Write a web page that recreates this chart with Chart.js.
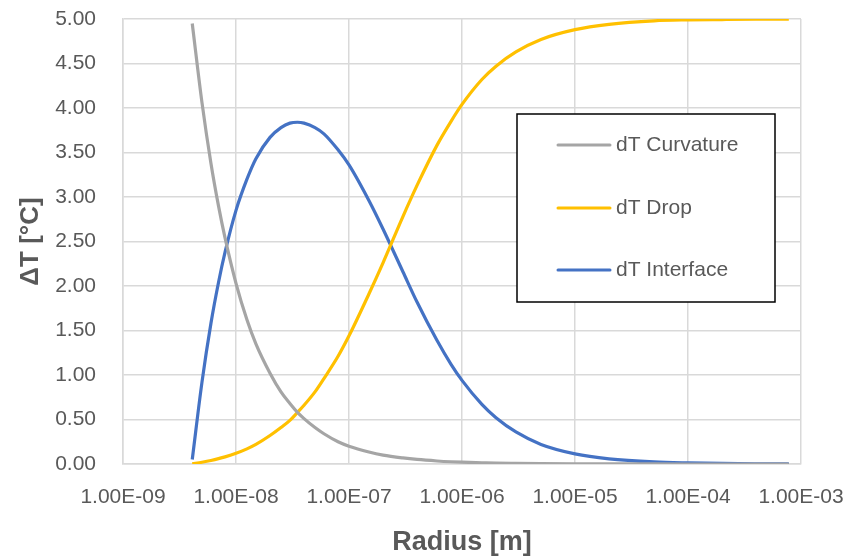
<!DOCTYPE html>
<html>
<head>
<meta charset="utf-8">
<script src="https://cdn.jsdelivr.net/npm/chart.js@4/dist/chart.umd.min.js"></script>
<style>
  html, body { margin: 0; padding: 0; background: #ffffff; }
  #wrap { width: 850px; height: 560px; }
</style>
</head>
<body>
<div id="wrap"><canvas id="grafico" width="850" height="560"></canvas></div>
<script>
// datos
var radios = [4.1e-9, 5e-9, 6e-9, 7e-9, 8e-9, 1e-8, 1.25e-8, 1.5e-8, 2e-8, 2.5e-8, 3e-8, 3.5e-8, 4e-8, 5e-8, 6e-8, 8e-8,
              1e-7, 1.5e-7, 2e-7, 3e-7, 4e-7, 6e-7, 8e-7, 1e-6, 1.5e-6, 2e-6, 3e-6, 5e-6, 1e-5, 2e-5, 5e-5, 1e-4, 2e-4, 4e-4, 7.8e-4];

var dtCurvatura = [4.95, 4.06, 3.38, 2.90, 2.54, 2.03, 1.62, 1.35, 1.02, 0.81, 0.68, 0.58, 0.51, 0.41, 0.34, 0.25,
                   0.20, 0.135, 0.10, 0.068, 0.051, 0.034, 0.025, 0.020, 0.014, 0.010, 0.007, 0.004, 0.002, 0.001, 0.0004, 0.0002, 0.0001, 0.0001, 0.0];

var dtGota = [0.001, 0.02, 0.04, 0.06, 0.08, 0.12, 0.17, 0.22, 0.32, 0.41, 0.49, 0.58, 0.66, 0.81, 0.96, 1.21,
              1.44, 1.91, 2.26, 2.78, 3.13, 3.58, 3.85, 4.04, 4.32, 4.47, 4.63, 4.77, 4.88, 4.94, 4.98, 4.99, 4.994, 4.997, 4.998];

var dtInterfaz = [0.05, 0.92, 1.58, 2.04, 2.38, 2.85, 3.20, 3.43, 3.67, 3.78, 3.83, 3.84, 3.83, 3.78, 3.71, 3.53,
                  3.36, 2.96, 2.64, 2.16, 1.82, 1.39, 1.12, 0.94, 0.67, 0.52, 0.36, 0.22, 0.114, 0.058, 0.023, 0.012, 0.006, 0.003, 0.0015];

var etiquetasSeries = ["dT Curvature", "dT Drop", "dT Interface"];
var ticksX = [1e-9, 1e-8, 1e-7, 1e-6, 1e-5, 1e-4, 1e-3];

var fuente = "'Liberation Sans', Arial, sans-serif";
var gris = "#595959";

function puntos(valores) {
  return radios.map(function(r, i) { return { x: r, y: valores[i] }; });
}

// formato tipo Excel 1.00E-09
function formatoCientifico(v) {
  let exp = Math.round(Math.log10(v));
  let signo = exp < 0 ? "-" : "+";
  let abs = Math.abs(exp);
  return "1.00E" + signo + (abs < 10 ? "0" + abs : abs);
}

// leyenda dentro de un recuadro
var leyendaCaja = {
  id: "leyendaCaja",
  afterDraw: function(chart) {
    let ctx = chart.ctx;
    let x0 = 517, y0 = 114, w = 258, h = 188;
    ctx.save();
    ctx.fillStyle = "#ffffff";
    ctx.fillRect(x0, y0, w, h);
    ctx.lineWidth = 1.5;
    ctx.strokeStyle = "#000000";
    ctx.strokeRect(x0, y0, w, h);
    let filas = [145, 208, 270];
    chart.data.datasets.forEach(function(ds, i) {
      ctx.beginPath();
      ctx.strokeStyle = ds.borderColor;
      ctx.lineWidth = 3;
      ctx.lineCap = "round";
      ctx.moveTo(558, filas[i]);
      ctx.lineTo(610, filas[i]);
      ctx.stroke();
      ctx.fillStyle = gris;
      ctx.font = "21px " + fuente;
      ctx.textBaseline = "middle";
      ctx.fillText(ds.label, 616, filas[i]);
    });
    ctx.restore();
  }
};

var canvas = document.getElementById("grafico");

var cfg = {
  type: "line",
  data: {
    datasets: [
      { label: etiquetasSeries[0], data: puntos(dtCurvatura), borderColor: "#A5A5A5" },
      { label: etiquetasSeries[1], data: puntos(dtGota), borderColor: "#FFC000" },
      { label: etiquetasSeries[2], data: puntos(dtInterfaz), borderColor: "#4472C4" }
    ]
  },
  options: {
    responsive: false,
    animation: false,
    layout: { padding: { top: 19, right: 49, left: 0, bottom: 0 } },
    elements: {
      point: { radius: 0 },
      line: { borderWidth: 3.2, cubicInterpolationMode: "monotone", fill: false }
    },
    plugins: {
      legend: { display: false },
      tooltip: { enabled: false }
    },
    scales: {
      x: {
        type: "logarithmic",
        min: 1e-9,
        max: 1e-3,
        afterBuildTicks: function(axis) {
          axis.ticks = ticksX.map(function(v) { return { value: v }; });
        },
        afterFit: function(axis) {
          axis.height = 96;
          axis.paddingLeft = 0;
          axis.paddingRight = 0;
        },
        grid: { color: "#d9d9d9", lineWidth: 1.5, drawTicks: false },
        border: { color: "#d9d9d9", width: 1.5 },
        ticks: {
          color: gris,
          font: { family: fuente, size: 21 },
          padding: 21,
          maxRotation: 0,
          autoSkip: false,
          callback: function(v) { return formatoCientifico(v); }
        },
        title: {
          display: true,
          text: "Radius [m]",
          color: gris,
          font: { family: fuente, size: 27, weight: "bold" },
          padding: { top: 4, bottom: 1 }
        }
      },
      y: {
        min: 0,
        max: 5,
        afterFit: function(axis) {
          axis.width = 123;
          axis.paddingTop = 0;
          axis.paddingBottom = 0;
        },
        grid: { color: "#d9d9d9", lineWidth: 1.5, drawTicks: false },
        border: { color: "#d9d9d9", width: 1.5 },
        ticks: {
          stepSize: 0.5,
          color: gris,
          font: { family: fuente, size: 21 },
          padding: 27,
          callback: function(v) { return v.toFixed(2); }
        },
        title: {
          display: true,
          text: "ΔT [°C]",
          color: gris,
          font: { family: fuente, size: 26, weight: "bold" },
          padding: { top: 15, bottom: 0 }
        }
      }
    }
  },
  plugins: [leyendaCaja]
};

var draw = new Chart(canvas, cfg);
</script>
</body>
</html>
